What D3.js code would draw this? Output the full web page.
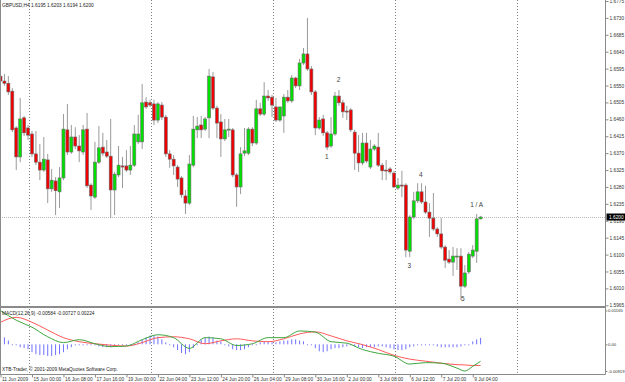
<!DOCTYPE html>
<html>
<head>
<meta charset="utf-8">
<script src="https://cdn.jsdelivr.net/npm/d3@7"></script>
<style>
  body { margin: 0; background: #fff; }
  svg { display: block; font-family: "Liberation Sans", Arial, sans-serif; }
</style>
</head>
<body>
<svg width="625" height="382"></svg>
<script>
// GBPUSD H4 candles, bar 0 = 11 Jun 2009
let opens = [
  1.6575,1.6562,1.6556,1.6535,1.6437,1.6360,1.6464,1.6437,1.6421,1.6368,
  1.6346,1.6325,1.6352,1.6275,1.6296,1.6267,1.6304,1.6432,1.6373,1.6413,
  1.6389,1.6373,1.6434,1.6285,1.6253,1.6346,1.6386,1.6373,1.6362,1.6272,
  1.6312,1.6336,1.6336,1.6325,1.6338,1.6400,1.6400,1.6506,1.6504,1.6501,
  1.6458,1.6498,1.6466,1.6368,1.6354,1.6333,1.6304,1.6256,1.6237,1.6338,
  1.6432,1.6445,1.6434,1.6464,1.6573,1.6490,1.6453,1.6408,1.6432,1.6432,
  1.6312,1.6280,1.6370,1.6370,1.6434,1.6397,1.6488,1.6474,1.6522,1.6519,
  1.6493,1.6458,1.6469,1.6519,1.6509,1.6570,1.6549,1.6610,1.6634,1.6594,
  1.6533,1.6437,1.6461,1.6424,1.6389,1.6421,1.6522,1.6504,1.6482,1.6485,
  1.6426,1.6370,1.6344,1.6397,1.6333,1.6381,1.6386,1.6338,1.6325,1.6328,
  1.6317,1.6277,1.6285,1.6285,1.6109,1.6200,1.6243,1.6267,1.6240,1.6213,
  1.6197,1.6168,1.6155,1.6120,1.6088,1.6080,1.6096,1.6096,1.6016,1.6054,
  1.6096,1.6109,1.6195
];
let highs = [
  1.6597,1.6581,1.6575,1.6543,1.6442,1.6517,1.6469,1.6445,1.6429,1.6429,
  1.6394,1.6413,1.6368,1.6328,1.6306,1.6333,1.6474,1.6501,1.6445,1.6439,
  1.6418,1.6445,1.6477,1.6290,1.6400,1.6442,1.6424,1.6405,1.6461,1.6320,
  1.6389,1.6360,1.6378,1.6389,1.6445,1.6472,1.6554,1.6519,1.6512,1.6512,
  1.6506,1.6506,1.6472,1.6378,1.6365,1.6338,1.6309,1.6272,1.6365,1.6469,
  1.6466,1.6469,1.6466,1.6594,1.6586,1.6496,1.6474,1.6461,1.6461,1.6437,
  1.6317,1.6386,1.6437,1.6439,1.6439,1.6512,1.6504,1.6559,1.6538,1.6525,
  1.6517,1.6493,1.6527,1.6538,1.6578,1.6573,1.6621,1.6650,1.6730,1.6602,
  1.6538,1.6466,1.6472,1.6429,1.6466,1.6533,1.6538,1.6512,1.6496,1.6490,
  1.6432,1.6418,1.6424,1.6424,1.6405,1.6394,1.6424,1.6344,1.6352,1.6333,
  1.6323,1.6304,1.6323,1.6290,1.6205,1.6267,1.6290,1.6290,1.6283,1.6237,
  1.6264,1.6173,1.6197,1.6125,1.6112,1.6120,1.6117,1.6117,1.6072,1.6107,
  1.6125,1.6208,1.6203
];
let lows = [
  1.6554,1.6549,1.6525,1.6426,1.6325,1.6346,1.6416,1.6405,1.6360,1.6338,
  1.6298,1.6320,1.6237,1.6267,1.6205,1.6224,1.6298,1.6365,1.6368,1.6381,
  1.6346,1.6365,1.6277,1.6219,1.6248,1.6341,1.6362,1.6357,1.6197,1.6205,
  1.6306,1.6277,1.6320,1.6312,1.6333,1.6394,1.6381,1.6488,1.6493,1.6445,
  1.6450,1.6458,1.6360,1.6331,1.6312,1.6280,1.6251,1.6208,1.6232,1.6333,
  1.6410,1.6410,1.6429,1.6410,1.6485,1.6410,1.6360,1.6402,1.6413,1.6306,
  1.6227,1.6261,1.6362,1.6365,1.6389,1.6392,1.6469,1.6469,1.6509,1.6466,
  1.6453,1.6453,1.6424,1.6504,1.6504,1.6543,1.6538,1.6605,1.6589,1.6525,
  1.6418,1.6432,1.6416,1.6378,1.6384,1.6416,1.6496,1.6464,1.6458,1.6426,
  1.6325,1.6320,1.6338,1.6344,1.6328,1.6376,1.6333,1.6298,1.6298,1.6314,
  1.6277,1.6272,1.6253,1.6093,1.6093,1.6195,1.6237,1.6235,1.6208,1.6147,
  1.6163,1.6147,1.6115,1.6064,1.6075,1.6043,1.6059,1.5979,1.6011,1.6048,
  1.6091,1.6078,1.6194
];
let closes = [
  1.6562,1.6556,1.6533,1.6432,1.6360,1.6461,1.6424,1.6418,1.6368,1.6346,
  1.6325,1.6354,1.6275,1.6298,1.6270,1.6304,1.6434,1.6373,1.6413,1.6389,
  1.6376,1.6432,1.6283,1.6256,1.6346,1.6384,1.6370,1.6362,1.6272,1.6314,
  1.6338,1.6333,1.6325,1.6338,1.6421,1.6421,1.6504,1.6493,1.6498,1.6458,
  1.6501,1.6466,1.6368,1.6354,1.6336,1.6301,1.6259,1.6237,1.6341,1.6434,
  1.6442,1.6432,1.6461,1.6575,1.6490,1.6450,1.6408,1.6432,1.6434,1.6312,
  1.6280,1.6368,1.6376,1.6434,1.6397,1.6488,1.6474,1.6522,1.6517,1.6498,
  1.6458,1.6493,1.6519,1.6509,1.6570,1.6549,1.6610,1.6634,1.6594,1.6533,
  1.6437,1.6458,1.6424,1.6386,1.6421,1.6522,1.6504,1.6480,1.6480,1.6432,
  1.6370,1.6344,1.6397,1.6349,1.6381,1.6389,1.6338,1.6323,1.6323,1.6320,
  1.6280,1.6285,1.6283,1.6112,1.6200,1.6243,1.6267,1.6240,1.6213,1.6197,
  1.6168,1.6155,1.6120,1.6085,1.6080,1.6096,1.6096,1.6016,1.6051,1.6101,
  1.6112,1.6195,1.6200
];

// MACD histogram, one value per bar (x 0.001)
let macdHist = [
  3.4,2.4,1.3,0.3,-0.3,-1.0,-1.3,-1.7,-2.7,-3.4,
  -3.7,-3.7,-4.0,-4.0,-3.7,-3.4,-2.7,-1.7,-1.0,-0.3,
  0.1,0.3,0.3,0.0,-0.3,-0.7,-1.0,-1.0,-1.0,-0.7,
  -0.3,-0.3,-0.3,-0.3,0.0,0.7,1.7,2.4,3.0,3.0,
  2.7,1.7,0.7,0.0,-1.0,-2.0,-3.0,-3.4,-2.7,-1.3,
  0.3,1.7,2.4,2.7,2.4,1.3,1.0,0.3,-0.7,-1.7,
  -2.0,-2.0,-1.7,-1.0,-0.3,0.3,0.7,1.0,1.0,0.7,
  0.7,1.0,1.3,1.3,1.7,1.7,1.3,1.0,0.3,-0.3,
  -1.3,-2.4,-2.7,-2.4,-1.7,-1.3,-1.3,-1.0,-0.7,-0.3,
  -0.7,-1.0,-1.3,-1.0,-1.0,-1.0,-0.7,-0.7,-1.0,-1.3,
  -1.7,-2.0,-2.0,-1.7,-1.0,-0.7,-0.3,-0.3,0.0,-0.3,
  -0.3,-0.7,-1.0,-1.0,-1.0,-1.0,-1.0,-0.7,-0.3,0.3,
  1.0,1.7,2.24
];
// MACD main / signal lines read at these bars (x 0.001)
let macdBars = [0,4,8,12,16,20,24,28,32,36,40,44,48,52,56,60,64,68,72,76,80,84,88,92,96,100,104,108,112,116,118,120,122];
let macdMain = [11.6,8.3,5.9,2.6,0.6,1.6,0.2,-0.8,-0.6,1.6,3.3,2.3,-1.4,2.3,1.9,-0.4,0.2,2.3,2.3,4.6,4.2,0.9,0.4,-1.8,-3.1,-4.1,-6.8,-6.3,-6.5,-8.2,-9.2,-7.6,-5.84];
let macdSignal = [7.6,9.3,7.6,4.9,2.3,0.9,0.2,-0.3,-0.6,0.6,2.3,2.6,1.9,0.2,1.2,1.9,1.2,0.9,1.9,3.6,4.3,2.9,1.2,-0.1,-1.8,-3.8,-5.1,-5.8,-6.5,-7.0,-7.1,-7.3,-7.27];

// axis ticks
let priceTicks = [1.6775,1.6730,1.6685,1.6640,1.6595,1.6550,1.6505,1.6460,1.6415,1.6370,1.6325,1.6280,1.6235,1.6190,1.6145,1.6100,1.6055,1.6010,1.5965];
let macdTicks = [0.01165, 0, -0.00919];
let macdTickLabels = ["0.01165", "0.00", "-0.00919"];
let dateBars = [0,8,16,24,32,40,48,56,64,72,80,88,96,104,112,120];
let dateLabels = ["11 Jun 2009","15 Jun 00:00","16 Jun 08:00","17 Jun 16:00","19 Jun 00:00","22 Jun 04:00","23 Jun 12:00","24 Jun 20:00","26 Jun 04:00","29 Jun 08:00","30 Jun 16:00","2 Jul 00:00","3 Jul 08:00","6 Jul 12:00","7 Jul 20:00","9 Jul 04:00"];
let weekBars = [7.25, 38.25, 69.25, 100.25, 131.25];

// wave count annotations
let waveLabels = ["1", "2", "3", "4", "5", "1 / A"];
let waveBars = [82.9, 85.9, 103.9, 106.8, 117.5, 121];
let wavePrices = [1.6360, 1.6565, 1.6072, 1.6314, 1.5984, 1.6232];

let lastPrice = 1.6200;

CandleChart = function(_parentElement) {
  this.parentElement = _parentElement;
  this.initVis();
};

CandleChart.prototype.initVis = function() {
  let vis = this;

  vis.svg = d3.select(vis.parentElement);
  vis.axisX = 605.5;
  vis.mainBottom = 306;
  vis.macdTop = 308.5;
  vis.macdBottom = 374.5;

  vis.bars = opens.map(function(o, i) {
    return { i: i, o: o, h: highs[i], l: lows[i], c: closes[i] };
  });

  vis.x = d3.scaleLinear().domain([0, 122]).range([0.5, 480.6]);
  vis.y = d3.scaleLinear().domain([1.5965, 1.6775]).range([305.3, 1.0]);
  vis.ym = d3.scaleLinear().domain([-0.00919, 0.01165]).range([371, 310.5]);

  vis.svg.append("rect")
    .attr("width", 625).attr("height", 382).attr("fill", "#fff");

  vis.renderVis();
};

CandleChart.prototype.renderVis = function() {
  let vis = this;

  // weekly separators
  vis.svg.append("g").selectAll("line")
    .data(weekBars).enter().append("line")
    .attr("x1", d => Math.round(vis.x(d)) + 0.5)
    .attr("x2", d => Math.round(vis.x(d)) + 0.5)
    .attr("y1", 0).attr("y2", vis.macdBottom)
    .attr("stroke", "#808080")
    .attr("stroke-dasharray", "1,2");

  // last price line
  vis.svg.append("line")
    .attr("x1", 0).attr("x2", vis.axisX)
    .attr("y1", Math.round(vis.y(lastPrice)) + 0.5)
    .attr("y2", Math.round(vis.y(lastPrice)) + 0.5)
    .attr("stroke", "#b8b8b8")
    .attr("stroke-dasharray", "1,1");

  // MACD histogram
  vis.svg.append("g").selectAll("line")
    .data(macdHist).enter().append("line")
    .attr("x1", (d, i) => vis.x(i)).attr("x2", (d, i) => vis.x(i))
    .attr("y1", vis.ym(0))
    .attr("y2", function(d) {
      let y = vis.ym(d / 1000);
      return Math.abs(y - vis.ym(0)) < 1 ? vis.ym(0) + 1 : y;
    })
    .attr("stroke", "#7070ff")
    .attr("stroke-width", 1);

  let macdLine = d3.line()
    .x(d => vis.x(d.bar))
    .y(d => vis.ym(d.v / 1000))
    .curve(d3.curveMonotoneX);

  vis.svg.append("path")
    .datum(macdBars.map((b, k) => ({ bar: b, v: macdSignal[k] })))
    .attr("d", macdLine)
    .attr("fill", "none")
    .attr("stroke", "#ff5a5a")
    .attr("stroke-width", 1);

  vis.svg.append("path")
    .datum(macdBars.map((b, k) => ({ bar: b, v: macdMain[k] })))
    .attr("d", macdLine)
    .attr("fill", "none")
    .attr("stroke", "#3fa63f")
    .attr("stroke-width", 1);

  // candles
  let candle = vis.svg.append("g").selectAll("g")
    .data(vis.bars).enter().append("g");

  candle.append("line")
    .attr("x1", d => vis.x(d.i)).attr("x2", d => vis.x(d.i))
    .attr("y1", d => vis.y(d.h)).attr("y2", d => vis.y(d.l))
    .attr("stroke", "#9a9a9a")
    .attr("stroke-width", 1);

  candle.append("rect")
    .attr("x", d => vis.x(d.i) - 1.5)
    .attr("width", 3)
    .attr("y", d => vis.y(Math.max(d.o, d.c)))
    .attr("height", d => Math.max(1, vis.y(Math.min(d.o, d.c)) - vis.y(Math.max(d.o, d.c))))
    .attr("fill", d => d.c >= d.o ? "#00e000" : "#f00000")
    .attr("stroke", "#6a6a6a")
    .attr("stroke-width", 0.6);

  // wave labels
  vis.svg.append("g").selectAll("text")
    .data(waveLabels).enter().append("text")
    .attr("x", (d, i) => vis.x(waveBars[i]))
    .attr("y", (d, i) => vis.y(wavePrices[i]))
    .attr("text-anchor", "middle")
    .attr("dominant-baseline", "central")
    .attr("font-size", "6.5px")
    .attr("fill", "#404040")
    .text(d => d);

  // frame lines
  vis.svg.append("line")
    .attr("x1", 0.5).attr("x2", 0.5).attr("y1", 0).attr("y2", vis.macdBottom)
    .attr("stroke", "#8a8a8a");
  vis.svg.append("line")
    .attr("x1", vis.axisX).attr("x2", vis.axisX).attr("y1", 0).attr("y2", vis.macdBottom)
    .attr("stroke", "#8a8a8a");
  vis.svg.append("rect")
    .attr("x", 0).attr("y", vis.mainBottom).attr("width", vis.axisX)
    .attr("height", 2).attr("fill", "#8a8a8a");
  vis.svg.append("line")
    .attr("x1", 0).attr("x2", vis.axisX).attr("y1", vis.macdBottom).attr("y2", vis.macdBottom)
    .attr("stroke", "#8a8a8a");

  // price axis
  let priceAxis = d3.axisRight(vis.y)
    .tickValues(priceTicks)
    .tickFormat(d3.format(".4f"))
    .tickSize(3)
    .tickPadding(1);
  vis.svg.append("g")
    .attr("transform", "translate(" + vis.axisX + ",0)")
    .call(priceAxis)
    .call(g => g.select(".domain").remove())
    .call(g => g.selectAll("line").attr("stroke", "#8a8a8a"))
    .call(g => g.selectAll("text").attr("font-size", "4.8px").attr("fill", "#333"));

  // last price box
  vis.svg.append("rect")
    .attr("x", vis.axisX + 1).attr("y", vis.y(lastPrice) - 3.5)
    .attr("width", 19).attr("height", 7).attr("fill", "#000");
  vis.svg.append("text")
    .attr("x", vis.axisX + 3.5).attr("y", vis.y(lastPrice))
    .attr("dominant-baseline", "central")
    .attr("font-size", "4.8px").attr("fill", "#fff")
    .text(lastPrice.toFixed(4));

  // MACD axis
  let macdAxis = d3.axisRight(vis.ym)
    .tickValues(macdTicks)
    .tickFormat((d, i) => macdTickLabels[i])
    .tickSize(2)
    .tickPadding(0.5);
  vis.svg.append("g")
    .attr("transform", "translate(" + vis.axisX + ",0)")
    .call(macdAxis)
    .call(g => g.select(".domain").remove())
    .call(g => g.selectAll("line").attr("stroke", "#8a8a8a"))
    .call(g => g.selectAll("text").attr("font-size", "4.2px").attr("fill", "#333"));

  // time axis
  let timeAxis = d3.axisBottom(vis.x)
    .tickValues(dateBars)
    .tickFormat((d, i) => dateLabels[i])
    .tickSize(3)
    .tickPadding(0);
  vis.svg.append("g")
    .attr("transform", "translate(0," + vis.macdBottom + ")")
    .call(timeAxis)
    .call(g => g.select(".domain").remove())
    .call(g => g.selectAll("line").attr("stroke", "#8a8a8a"))
    .call(g => g.selectAll("text")
      .attr("text-anchor", "start")
      .attr("dx", "1px")
      .attr("font-size", "4.8px").attr("fill", "#333"));

  // labels
  vis.svg.append("text")
    .attr("x", 2).attr("y", 7)
    .attr("font-size", "4.8px").attr("fill", "#222")
    .text("GBPUSD,H4 1.6195 1.6203 1.6194 1.6200");

  vis.svg.append("text")
    .attr("x", 2).attr("y", 314.5)
    .attr("font-size", "4.8px").attr("fill", "#222")
    .text("MACD(12,26,9) -0.00584 -0.00727 0.00224");

  vis.svg.append("text")
    .attr("x", 2).attr("y", 371)
    .attr("font-size", "4.8px").attr("fill", "#222")
    .text("XTB-Trader, \u00a9 2001-2009 MetaQuotes Software Corp.");
};

let chart = new CandleChart("svg");
</script>
</body>
</html>
